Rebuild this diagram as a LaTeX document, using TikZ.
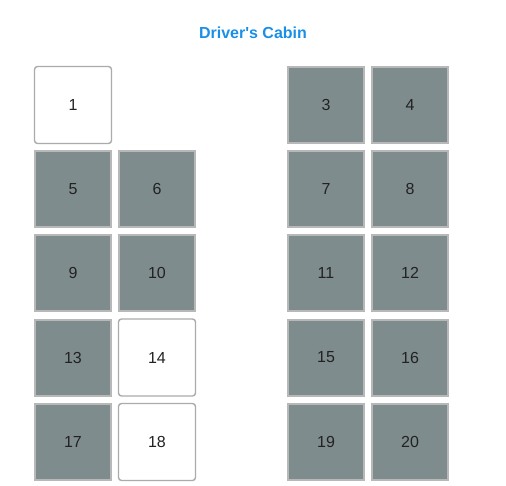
\documentclass[tikz,border=0pt]{standalone}
\usepackage{fontspec}
\setmainfont{Liberation Sans}
\definecolor{seatgray}{HTML}{7F8C8D}
\definecolor{seatborder}{HTML}{ABABAB}
\definecolor{takenborder}{HTML}{B8B8B8}
\definecolor{titleblue}{HTML}{1A8FE8}
\definecolor{numtext}{HTML}{222222}
\begin{document}
\begin{tikzpicture}[x=1pt,y=-1pt,
  seatbase/.style={minimum width=77pt,minimum height=77pt,inner sep=0pt,line width=1.4pt,draw=seatborder,font=\fontsize{16}{18}\selectfont,text=numtext},
  taken/.style={seatbase,fill=seatgray,draw=takenborder,line width=2pt,minimum width=76pt,minimum height=76pt},
  free/.style={seatbase,fill=white,rounded corners=3pt}]
\useasboundingbox (0,0) rectangle (506,485);
\node[font=\bfseries\fontsize{16}{18}\selectfont,text=titleblue] (title) at (253,32.5) {Driver\textquotesingle s Cabin};
\node[free]  (s1)  at (73,105) {1};
\node[taken] (s3)  at (326,105) {3};
\node[taken] (s4)  at (410,105) {4};
\node[taken] (s5)  at (73,189) {5};
\node[taken] (s6)  at (157,189) {6};
\node[taken] (s7)  at (326,189) {7};
\node[taken] (s8)  at (410,189) {8};
\node[taken] (s9)  at (73,273) {9};
\node[taken] (s10) at (157,273) {10};
\node[taken] (s11) at (326,273) {11};
\node[taken] (s12) at (410,273) {12};
\node[taken] (s13) at (73,357.5) {13};
\node[free]  (s14) at (157,357.5) {14};
\node[taken] (s15) at (326,357.5) {15};
\node[taken] (s16) at (410,357.5) {16};
\node[taken] (s17) at (73,442) {17};
\node[free]  (s18) at (157,442) {18};
\node[taken] (s19) at (326,442) {19};
\node[taken] (s20) at (410,442) {20};
\end{tikzpicture}
\end{document}
